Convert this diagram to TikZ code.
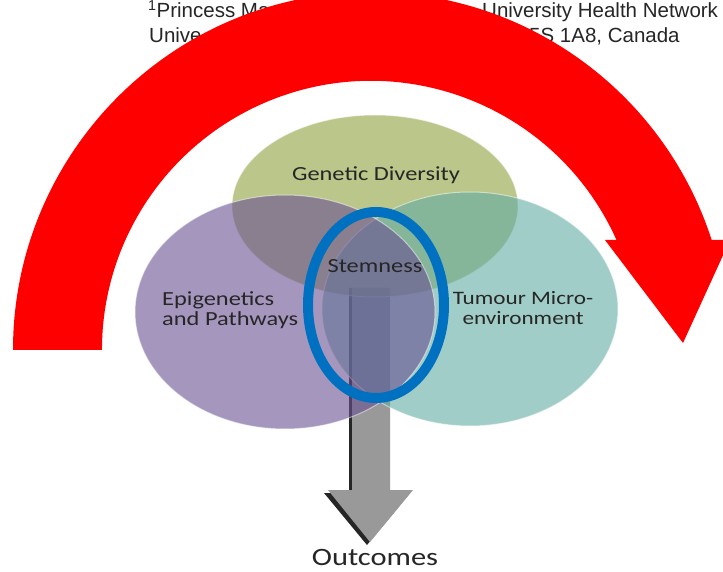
\documentclass[tikz,border=0pt]{standalone}
\usepackage{fontspec}
\setmainfont{Liberation Sans}
\newfontfamily\vennfont{Carlito}[FakeStretch=1.22]
\usetikzlibrary{shapes.geometric}
\definecolor{vgreen}{RGB}{143,160,63}
\definecolor{vpurple}{RGB}{105,80,147}
\definecolor{vteal}{RGB}{97,172,163}
\definecolor{ringblue}{RGB}{0,112,192}
\definecolor{flowred}{RGB}{255,0,0}
\begin{document}
\begin{tikzpicture}[x=1pt,y=1pt,
  venn/.style={ellipse, inner sep=0pt, fill opacity=0.6, draw=white, draw opacity=0.5, line width=1pt},
  vennlabel/.style={font=\vennfont\fontsize{20}{20}\selectfont, text=black!85, inner sep=0pt},
  header/.style={font=\fontsize{20.5}{24}\selectfont, text=black!85, inner sep=0pt, anchor=base west},
]
\useasboundingbox (0,0) rectangle (723,571);
\clip (0,0) rectangle (723,571);
\fill[white] (0,0) rectangle (723,571);

% affiliation lines at the top
\node[header] (aff1) at (148,553) {\textsuperscript{1}Princess Ma};
\node[header] (aff2) at (482,553) {University Health Network};
\node[header] (aff3) at (149,528) {Unive};
\node[header] (aff4) at (529,528) {5S 1A8, Canada};

% downward block arrow to the outcomes, lying under the sets
\fill[black!85] (349,283) -- (349,78) -- (324,78) -- (367,26) -- (410,78) -- (387,78) -- (387,283) -- cycle;
\fill[black!40] (352,283) -- (352,81) -- (328,81) -- (370,29) -- (413,81) -- (390,81) -- (390,283) -- cycle;

% three overlapping sets
\node[venn, fill=vgreen, minimum width=286, minimum height=182] (gen) at (375,365) {};
\node[venn, fill=vteal, minimum width=296, minimum height=234] (tme) at (470,262) {};
\node[venn, fill=vpurple, minimum width=300, minimum height=234] (epi) at (285,259) {};

% stemness ring
\node[ellipse, draw=ringblue, line width=10pt, minimum width=136, minimum height=186, inner sep=0pt] (stem) at (376,266) {};

% labels
\node[vennlabel] (genlab) at (376,390) [anchor=base] {Genetic Diversity};
\node[vennlabel] (stemlab) at (375,298) [anchor=base] {Stemness};
\node[vennlabel, align=left, anchor=west] (epilab) at (162,260.5) {Epigenetics\\and Pathways};
\node[vennlabel, align=center, font=\vennfont\fontsize{19}{20}\selectfont] (tmelab) at (523,263) {Tumour Micro-\\environment};
\node[vennlabel, font=\vennfont\fontsize{25}{25}\selectfont] (out) at (375,14) {Outcomes};

% large curved red arrow
\fill[flowred] (13,221) arc[start angle=180, end angle=17.9, radius=358pt]
  -- (730,331) -- (683,228) -- (605,331) -- (616.5,331)
  arc[start angle=24.1, end angle=180, radius=269pt] -- cycle;
\end{tikzpicture}
\end{document}
